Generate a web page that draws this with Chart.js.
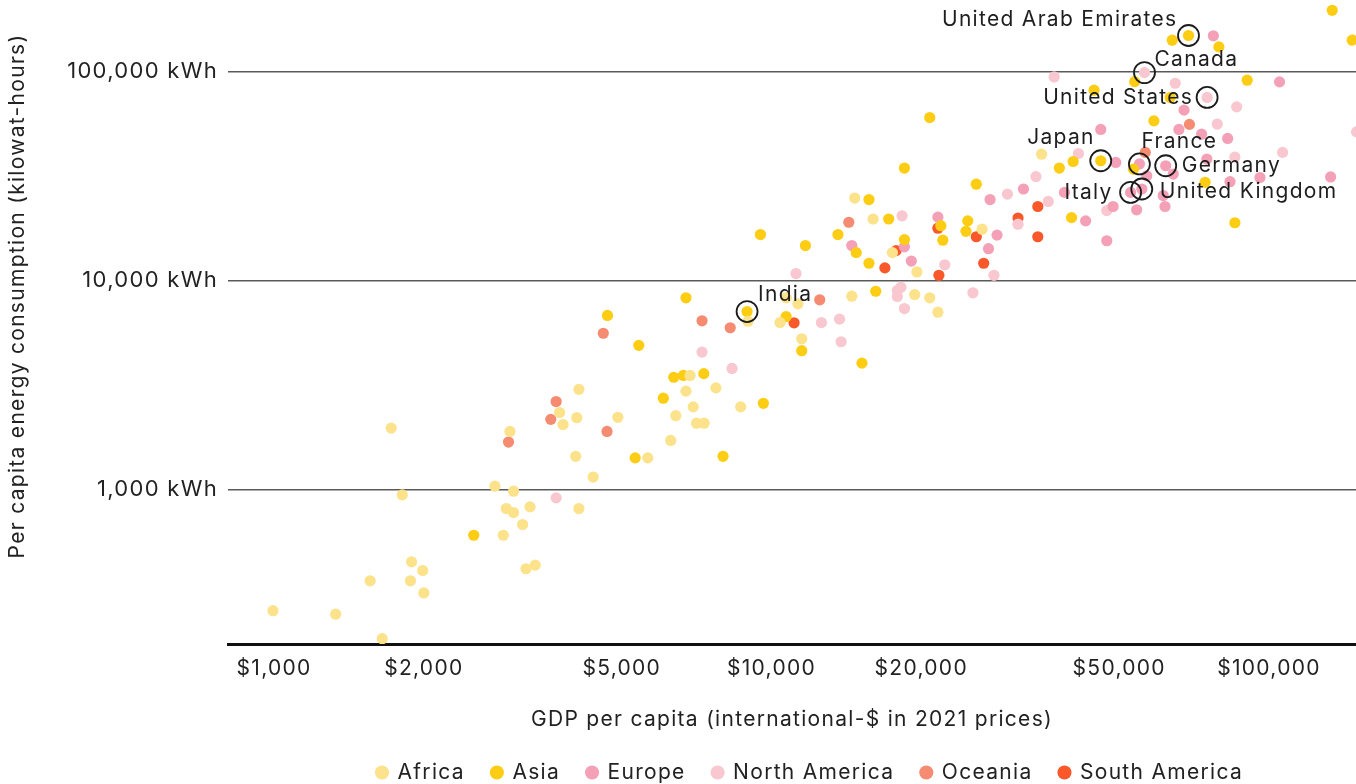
<!DOCTYPE html>
<html>
<head>
<meta charset="utf-8">
<title>Energy use vs GDP per capita</title>
<script src="https://cdn.jsdelivr.net/npm/chart.js@4.4.1/dist/chart.umd.min.js"></script>
<style>
  html, body { margin: 0; padding: 0; background: #fff; overflow: hidden; }
  #wrap { width: 1356px; height: 784px; }
</style>
</head>
<body>
<div id="wrap"><canvas id="energyChart"></canvas></div>
<script>
// tick labels
const xTicks = [1000, 2000, 5000, 10000, 20000, 50000, 100000];
const yTicks = [1000, 10000, 100000];

const regions = ['Africa', 'Asia', 'Europe', 'North America', 'Oceania', 'South America'];

// GDP per capita ($) and energy per capita (kWh)
const africaGdp = [1720, 1810, 995, 1330, 1650, 1560, 1890, 1990, 1880, 2000, 2780, 3030, 2930, 3030, 3270, 3160, 2890, 3210, 3350, 4100, 3750, 3810, 4060, 2980, 4040, 4380, 4100, 8970, 10700, 11300, 10400, 14500, 19400, 20800, 21600, 11500, 6860, 6730, 7730, 6960, 8670, 6420, 7070, 7320, 4910, 6270, 5640, 34900, 14700, 16000, 26500, 17500, 19600];
const africaEnergy = [1970, 945, 264, 254, 194, 367, 452, 411, 367, 321, 1040, 984, 813, 778, 828, 682, 606, 419, 436, 3020, 2340, 2050, 2210, 1900, 1445, 1150, 813, 6390, 8270, 7740, 6300, 8420, 8570, 8270, 7060, 5270, 3520, 2960, 3070, 2490, 2490, 2260, 2080, 2080, 2220, 1720, 1420, 40200, 24800, 19700, 17600, 13600, 11000];

const asiaGdp = [2520, 6730, 4680, 5410, 8930, 10700, 16200, 11500, 15200, 6360, 6650, 7310, 6060, 9630, 5320, 7990, 37900, 18500, 25800, 15700, 9500, 11700, 13600, 17200, 21900, 22100, 24800, 24600, 18500, 14800, 15700, 45900, 40400, 58700, 74400, 85400, 53400, 40100, 134000, 147000, 68900, 63900, 79300, 53700, 44500, 63300, 90400, 20800];
const asiaEnergy = [606, 8270, 6810, 4900, 7110, 6730, 8890, 4620, 4030, 3450, 3520, 3590, 2740, 2590, 1420, 1445, 34500, 34500, 28900, 24400, 16600, 14700, 16600, 19700, 18300, 15600, 19300, 17200, 15700, 13600, 12100, 37400, 37100, 58000, 29500, 18900, 34100, 20000, 196000, 141000, 148500, 141000, 131000, 89400, 81300, 75000, 90800, 60200];

const europeGdp = [21600, 18500, 14500, 19100, 32100, 27500, 28400, 27300, 45900, 67500, 65900, 73200, 82600, 75000, 133000, 83500, 95900, 54900, 62000, 52700, 55500, 49200, 64200, 56800, 42800, 47200, 38800, 48600, 54200, 61800, 61300, 77300, 105000];
const europeEnergy = [20100, 14500, 14700, 12400, 27400, 24400, 16500, 14200, 52800, 65300, 52800, 50100, 47800, 38100, 31300, 29700, 31100, 36100, 35400, 26400, 27400, 36700, 32300, 31700, 19300, 15500, 26400, 22600, 21800, 22600, 25500, 148000, 89100];

const northAmGdp = [3690, 17900, 18200, 17900, 18500, 25400, 12600, 13700, 13800, 7250, 8330, 34000, 29800, 36000, 31300, 18300, 22300, 28000, 11200, 41400, 78700, 86100, 106500, 85400, 47200, 56200, 75100, 37000, 64800, 150000];
const northAmEnergy = [914, 8960, 9290, 8390, 7350, 8740, 6300, 6540, 5100, 4550, 3800, 31400, 25900, 23900, 18600, 20400, 11900, 10600, 10800, 40500, 56000, 67700, 41000, 38900, 21600, 98700, 75100, 94100, 87800, 51400];

const oceaniaGdp = [3690, 3600, 4670, 2960, 4590, 7250, 8260, 12500, 14300, 69200, 56400];
const oceaniaEnergy = [2640, 2170, 1900, 1690, 5600, 6420, 5950, 8090, 19000, 55800, 41000];

const southAmGdp = [11100, 34300, 31300, 34300, 21600, 25800, 26700, 17800, 16900, 21700];
const southAmEnergy = [6280, 22600, 19900, 16200, 17800, 16200, 12100, 13900, 11500, 10600];

// labelled countries
const highlightNames = ['United Arab Emirates', 'Canada', 'United States', 'Japan', 'France', 'Germany', 'Italy', 'United Kingdom', 'India'];
const highlightGdp = [68900, 56200, 75100, 45900, 54900, 62000, 52700, 55500, 8930];
const highlightEnergy = [148500, 98700, 75100, 37400, 36100, 35400, 26400, 27400, 7110];

// where each label sits relative to its ring: [dx, dy, align]
const labelOffsets = [
    [-11, -16, 'right'],
    [10, -13, 'left'],
    [-14, 0, 'right'],
    [-6, -23, 'right'],
    [2, -22, 'left'],
    [16, 0, 'left'],
    [-18, 0, 'right'],
    [18, 3, 'left'],
    [11, -17, 'left'],
];

const regionColors = ['#fce28a', '#fdcd14', '#f4a1b8', '#f9c7cf', '#f58b71', '#f9582b'];
const FONT = 'Inter, "Noto Sans", sans-serif';
const TRACKING = '1.3px';

function toPoints(xs, ys) {
    return xs.map((v, i) => ({x: v, y: ys[i]}));
}

const regionData = [
    toPoints(africaGdp, africaEnergy),
    toPoints(asiaGdp, asiaEnergy),
    toPoints(europeGdp, europeEnergy),
    toPoints(northAmGdp, northAmEnergy),
    toPoints(oceaniaGdp, oceaniaEnergy),
    toPoints(southAmGdp, southAmEnergy),
];

const datasets = regions.map((name, i) => ({
    label: name,
    data: regionData[i],
    backgroundColor: regionColors[i],
    borderWidth: 0,
    pointRadius: 5.6,
    order: 1,
    clip: 0,
}));

datasets.push({
    label: 'highlight',
    data: toPoints(highlightGdp, highlightEnergy),
    backgroundColor: 'rgba(0,0,0,0)',
    borderColor: '#1b1b1b',
    pointBorderWidth: 1.8,
    pointRadius: 10.5,
    order: 0,
    clip: false,
});

const annotations = {
    id: 'annotations',
    // the reference font runs a little wider than Inter, so add some tracking
    beforeUpdate(chart) { chart.ctx.letterSpacing = TRACKING; },
    beforeDraw(chart) { chart.ctx.letterSpacing = TRACKING; },
    afterLayout(chart) {
        // legend in the reference starts well right of the canvas middle
        chart.legend.left = 350;
    },
    afterDatasetsDraw(chart) {
        const {ctx, scales: {x, y}} = chart;
        ctx.save();
        ctx.font = '21px ' + FONT;
        ctx.fillStyle = '#1e1e1e';
        ctx.textBaseline = 'middle';
        highlightNames.forEach((name, i) => {
            const [dx, dy, align] = labelOffsets[i];
            ctx.textAlign = align;
            ctx.fillText(name,
                x.getPixelForValue(highlightGdp[i]) + dx,
                y.getPixelForValue(highlightEnergy[i]) + dy);
        });
        // y axis title, sits a bit above the middle of the plot
        ctx.translate(18, 296);
        ctx.rotate(-Math.PI / 2);
        ctx.textAlign = 'center';
        ctx.fillStyle = '#222';
        ctx.fillText('Per capita energy consumption (kilowat-hours)', 0, 0);
        ctx.restore();
    },
};

Chart.defaults.font.family = FONT;
Chart.defaults.color = '#222';

new Chart(document.getElementById('energyChart'), {
    type: 'scatter',
    data: { datasets: datasets },
    plugins: [annotations],
    options: {
        responsive: true,
        maintainAspectRatio: false,
        animation: false,
        events: [],
        layout: { autoPadding: false, padding: { top: 0, right: 0, bottom: -9, left: 0 } },
        plugins: {
            tooltip: { enabled: false },
            legend: {
                position: 'bottom',
                align: 'start',
                labels: {
                    usePointStyle: true,
                    pointStyle: 'circle',
                    boxWidth: 10,
                    boxHeight: 10,
                    padding: 27,
                    font: { size: 21 },
                    color: '#222',
                    filter: item => item.text !== 'highlight',
                },
            },
        },
        scales: {
            x: {
                type: 'logarithmic',
                min: 808,
                max: 149600,
                grid: { display: false },
                border: { display: true, color: '#111', width: 3 },
                ticks: {
                    padding: 4,
                    font: { size: 21 },
                    color: '#222',
                    callback: v => '$' + Number(v).toLocaleString('en-US'),
                },
                title: {
                    display: true,
                    text: 'GDP per capita (international-$ in 2021 prices)',
                    font: { size: 21 },
                    color: '#222',
                    padding: { top: 4, bottom: 3 },
                },
                afterBuildTicks: scale => { scale.ticks = xTicks.map(v => ({value: v})); },
                afterFit: scale => {
                    scale.height = 91;
                    scale.paddingLeft = 0;
                    scale.paddingRight = 0;
                },
            },
            y: {
                type: 'logarithmic',
                min: 183,
                max: 219500,
                grid: { color: '#5a5a5a', lineWidth: 1.4, drawTicks: false },
                border: { display: false },
                ticks: {
                    padding: 10,
                    font: { size: 22 },
                    color: '#222',
                    callback: v => Number(v).toLocaleString('en-US') + ' kWh',
                },
                afterBuildTicks: scale => { scale.ticks = yTicks.map(v => ({value: v})); },
                afterFit: scale => {
                    scale.width = 228;
                    scale.paddingTop = 0;
                    scale.paddingBottom = 0;
                },
            },
        },
    },
});
</script>
</body>
</html>
